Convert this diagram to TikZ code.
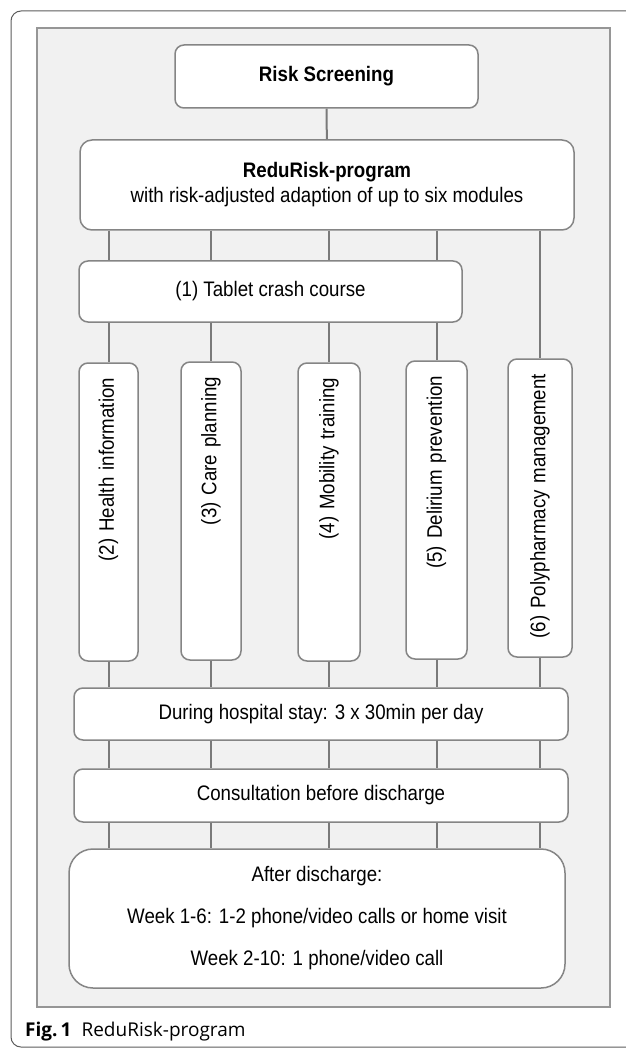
\documentclass[tikz,border=0pt]{standalone}
\usepackage{fontspec}
\setmainfont{Liberation Sans}[FakeStretch=0.89]
\newfontfamily\capfont{Open Sans}
\definecolor{boxline}{HTML}{858585}
\definecolor{linkgray}{HTML}{7A7A7A}
\definecolor{panelfill}{HTML}{F1F1F1}
\definecolor{panelline}{HTML}{969696}
\definecolor{framegray}{HTML}{5C5C5C}
\tikzset{
	box/.style={draw=boxline, line width=1.5pt, fill=white, rounded corners=9pt, align=center, inner sep=0pt},
	module/.style={box, rotate=90, text width=268pt, inner xsep=15pt, align=right},
	link/.style={draw=linkgray, line width=2pt}
}
\begin{document}
\begin{tikzpicture}[x=1pt, y=-1pt, font=\fontsize{21}{25}\selectfont]
	\useasboundingbox (0,0) rectangle (625,1048);
	\draw[framegray, line width=1pt, rounded corners=10pt] (640,11) -- (11,11) -- (11,1047) -- (640,1047);
	\draw[panelline, fill=panelfill, line width=1.5pt] (37,28) rectangle (610,1007);

	\node (RS) [box, minimum width=303pt, minimum height=63pt] at (326.5,76.5) {\textbf{Risk Screening}};
	\node (RR) [box, minimum width=494pt, minimum height=90pt, rounded corners=12pt] at (327,185) {\textbf{ReduRisk-program}\\with risk-adjusted adaption of up to six modules};
	\node (TC) [box, minimum width=383pt, minimum height=61pt] at (270.5,291.5) {(1) Tablet crash course};
	\node (m2) [module, minimum height=59pt] at (108.5,512) {(2) Health information};
	\node (m3) [module, minimum height=60pt] at (211,511) {(3) Care planning};
	\node (m4) [module, minimum height=62pt] at (329,512) {(4) Mobility training};
	\node (m5) [module, minimum height=61pt] at (436.5,510) {(5) Delirium prevention};
	\node (m6) [module, minimum height=64pt] at (540,508) {(6) Polypharmacy management};
	\node (DH) [box, minimum width=494pt, minimum height=52pt] at (321,714) {During hospital stay: 3 x 30min per day};
	\node (CB) [box, minimum width=494pt, minimum height=53pt] at (321,795.5) {Consultation before discharge};
	\node (AD) [box, minimum width=496pt, minimum height=139pt, rounded corners=24pt] at (317,918.5) {After discharge:\\[17pt]Week 1-6: 1-2 phone/video calls or home visit\\[17pt]Week 2-10: 1 phone/video call};
	\node (cap) [anchor=base west, inner sep=0pt, font=\capfont\fontsize{19}{22}\selectfont] at (25,1036) {\textbf{Fig.\,1}\hspace{10pt}ReduRisk-program};

	\draw[link] (RS) -- (RR);
	\draw[link] (RR.south -| m2) -- (TC.north -| m2) (RR.south -| m3) -- (TC.north -| m3)
		(RR.south -| m4) -- (TC.north -| m4) (RR.south -| m5) -- (TC.north -| m5);
	\draw[link] (TC.south -| m2) -- (m2.east) (TC.south -| m3) -- (m3.east)
		(TC.south -| m4) -- (m4.east) (TC.south -| m5) -- (m5.east);
	\draw[link] (RR.south -| m6) -- (m6.east);
	\draw[link] (m2.west) -- (DH.north -| m2) (m3.west) -- (DH.north -| m3) (m4.west) -- (DH.north -| m4)
		(m5.west) -- (DH.north -| m5) (m6.west) -- (DH.north -| m6);
	\draw[link] (DH.south -| m2) -- (CB.north -| m2) (DH.south -| m3) -- (CB.north -| m3) (DH.south -| m4) -- (CB.north -| m4)
		(DH.south -| m5) -- (CB.north -| m5) (DH.south -| m6) -- (CB.north -| m6);
	\draw[link] (CB.south -| m2) -- (AD.north -| m2) (CB.south -| m3) -- (AD.north -| m3) (CB.south -| m4) -- (AD.north -| m4)
		(CB.south -| m5) -- (AD.north -| m5) (CB.south -| m6) -- (AD.north -| m6);
\end{tikzpicture}
\end{document}
